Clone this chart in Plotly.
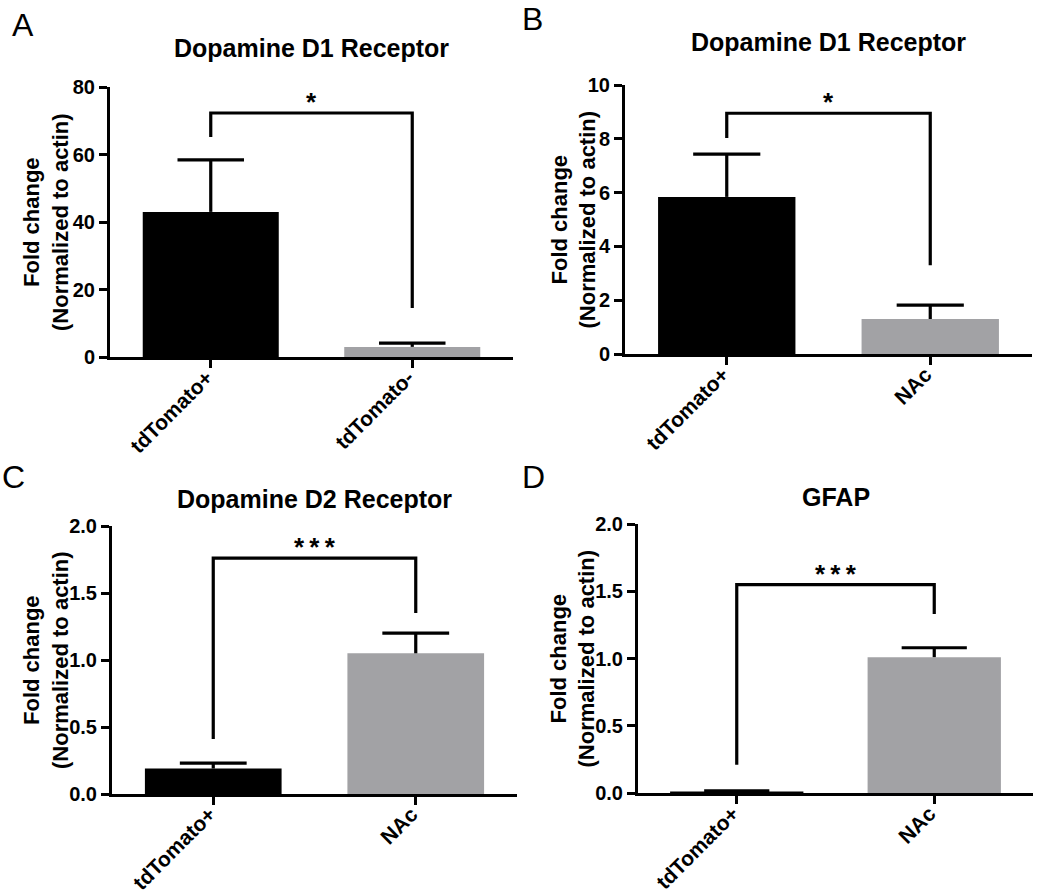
import plotly.graph_objects as go

# ---------------- data ----------------
panel_letters = ["A", "B", "C", "D"]
titles = ["Dopamine D1 Receptor", "Dopamine D1 Receptor", "Dopamine D2 Receptor", "GFAP"]
categories_A = ["tdTomato+", "tdTomato-"]
categories_B = ["tdTomato+", "NAc"]
categories_C = ["tdTomato+", "NAc"]
categories_D = ["tdTomato+", "NAc"]

means_A = [43.0, 3.0]
sem_A = [15.4, 1.1]
means_B = [5.84, 1.30]
sem_B = [1.59, 0.52]
means_C = [0.19, 1.05]
sem_C = [0.04, 0.15]
means_D = [0.012, 1.01]
sem_D = [0.004, 0.07]

y_max = [80, 10, 2.0, 2.0]
y_step = [20, 2, 0.5, 0.5]
y_fmt = ["d", "d", ".1f", ".1f"]

bracket_top = [72.3, 8.95, 1.76, 1.55]
bracket_left_end = [65.2, 8.03, 0.41, 0.21]
bracket_right_end = [14.5, 3.3, 1.35, 1.33]
significance = ["*", "*", "*\u2009*\u2009*", "*\u2009*\u2009*"]

bar_colors = ["#000000", "#a2a2a5"]
y_title = "Fold change<br>(Normalized to actin)"

# ---------------- layout (pixels, measured in the 1050x893 page) ----------------
W, H = 1050, 893
BAR_W = 0.675
CAP_HALF = 0.165
TICKLEN = 8
px_x = [(110, 513), (625, 1032), (112, 517), (638, 1033)]
px_y = [(87, 357), (85, 354), (526, 794), (524, 793)]
title_y_px = [48, 42, 499, 497]
ytitle_x_px = [46, 573, 46, 572]
label_pos_px = [(23, 25), (532, 19), (13, 477), (533, 477)]


def fx(p):
    return p / W


def fy(p):
    return 1 - p / H


FONT = "Liberation Sans, Arial, sans-serif"

cats = [categories_A, categories_B, categories_C, categories_D]
means = [means_A, means_B, means_C, means_D]
sems = [sem_A, sem_B, sem_C, sem_D]

fig = go.Figure()
annotations = []
layout_axes = {}
line_style = dict(color="#000000", width=3.2)

for i in range(4):
    n = "" if i == 0 else str(i + 1)
    xa, ya = "x" + n, "y" + n
    xpos = list(range(len(cats[i])))
    fig.add_trace(go.Bar(
        x=xpos, y=means[i], xaxis=xa, yaxis=ya,
        marker=dict(color=bar_colors, line=dict(width=0)),
        width=BAR_W, showlegend=False, hoverinfo="skip",
    ))
    # one-sided error bars (upper only): stem + cap
    ex, ey = [], []
    for xp, m, s in zip(xpos, means[i], sems[i]):
        ex += [xp, xp, None, xp - CAP_HALF, xp + CAP_HALF, None]
        ey += [m, m + s, None, m + s, m + s, None]
    fig.add_trace(go.Scatter(
        x=ex, y=ey, xaxis=xa, yaxis=ya, mode="lines",
        line=line_style, showlegend=False, hoverinfo="skip",
    ))
    # significance bracket
    fig.add_trace(go.Scatter(
        x=[xpos[0], xpos[0], xpos[1], xpos[1]],
        y=[bracket_left_end[i], bracket_top[i], bracket_top[i], bracket_right_end[i]],
        xaxis=xa, yaxis=ya, mode="lines",
        line=line_style, showlegend=False, hoverinfo="skip",
    ))
    annotations.append(dict(
        x=(xpos[0] + xpos[1]) / 2, xref=xa, y=bracket_top[i], yref=ya,
        text="<b>" + significance[i] + "</b>", showarrow=False,
        font=dict(family=FONT, size=26, color="#000000"),
        xanchor="center", yanchor="bottom", yshift=-6,
    ))
    # rotated category labels, ending right under each tick
    for xp, c in zip(xpos, cats[i]):
        annotations.append(dict(
            x=xp, xref=xa, y=0, yref=ya, text="<b>" + c + "</b>",
            showarrow=False, textangle=-45,
            font=dict(family=FONT, size=21, color="#000000"),
            xanchor="right", yanchor="top", xshift=9, yshift=-(TICKLEN - 2),
        ))

    x0, x1 = px_x[i]
    yt, yb = px_y[i]
    layout_axes["xaxis" + n] = dict(
        domain=[fx(x0), fx(x1)], anchor=ya, automargin=False,
        range=[-0.5, 1.5], tickvals=xpos, showticklabels=False,
        showline=True, linecolor="#000000", linewidth=3,
        ticks="outside", ticklen=TICKLEN, tickwidth=3, tickcolor="#000000",
        showgrid=False, zeroline=False,
    )
    layout_axes["yaxis" + n] = dict(
        domain=[fy(yb), fy(yt)], anchor=xa, automargin=False,
        range=[0, y_max[i]], dtick=y_step[i], tick0=0, tickformat=y_fmt[i],
        showline=True, linecolor="#000000", linewidth=3,
        ticks="outside", ticklen=TICKLEN, tickwidth=3, tickcolor="#000000",
        showgrid=False, zeroline=False,
        tickfont=dict(family=FONT, size=20, color="#000000", weight="bold"),
    )
    annotations.append(dict(
        x=0.5, xref=xa + " domain", y=fy(title_y_px[i]), yref="paper",
        text="<b>" + titles[i] + "</b>", showarrow=False,
        font=dict(family=FONT, size=25, color="#000000"),
        xanchor="center", yanchor="middle",
    ))
    annotations.append(dict(
        x=fx(ytitle_x_px[i]), xref="paper", y=fy((yt + yb) / 2), yref="paper",
        text="<b>" + y_title + "</b>", showarrow=False, textangle=-90,
        font=dict(family=FONT, size=22, color="#000000"),
        xanchor="center", yanchor="middle",
    ))
    lx, ly = label_pos_px[i]
    annotations.append(dict(
        x=fx(lx), xref="paper", y=fy(ly), yref="paper",
        text=panel_letters[i], showarrow=False,
        font=dict(family=FONT, size=32, color="#000000"),
        xanchor="center", yanchor="middle",
    ))

fig.update_layout(
    template="none",
    width=W, height=H,
    margin=dict(l=0, r=0, t=0, b=0, autoexpand=False),
    paper_bgcolor="#ffffff", plot_bgcolor="#ffffff",
    annotations=annotations,
    **layout_axes,
)

# remove the browser's default 8px page margin so the figure fills the window exactly
fig.write_html(
    "out.html",
    config={"displayModeBar": False, "staticPlot": True},
    post_script="document.body.style.margin='0';",
)
